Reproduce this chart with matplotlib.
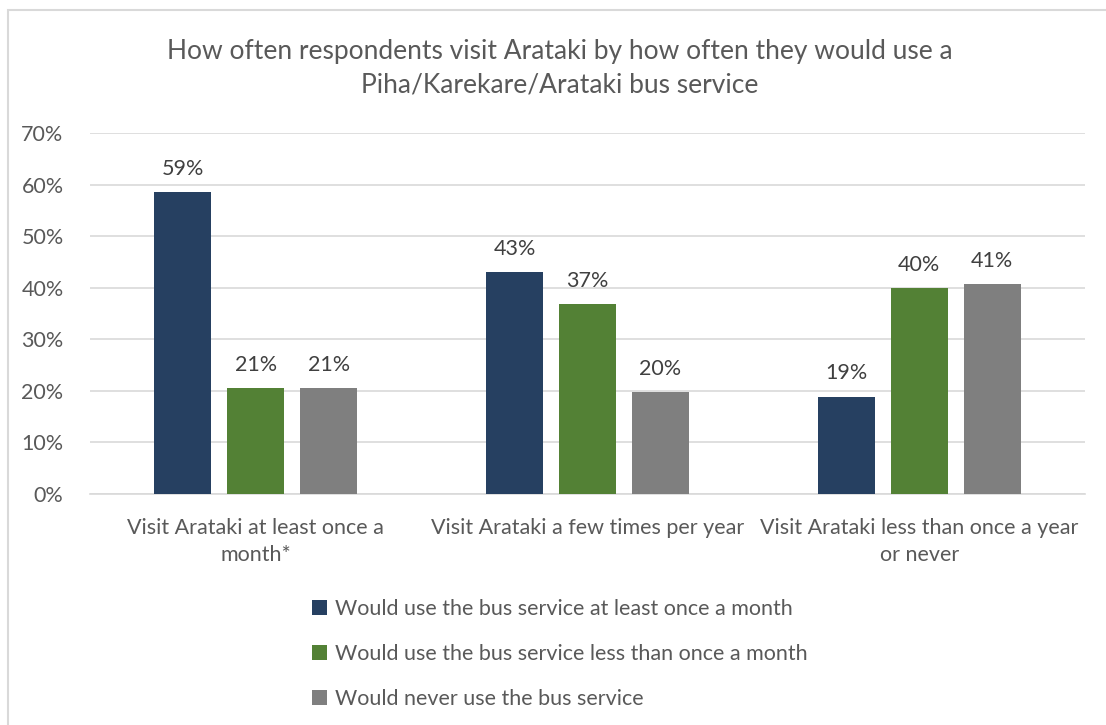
import matplotlib.pyplot as plt
import numpy as np
from matplotlib.patches import Rectangle

plt.rcParams['font.family'] = ['Lato', 'DejaVu Sans']

categories = ["Visit Arataki at least once a\nmonth*",
              "Visit Arataki a few times per year",
              "Visit Arataki less than once a year\nor never"]
series_names = ["Would use the bus service at least once a month",
                "Would use the bus service less than once a month",
                "Would never use the bus service"]
at_least_monthly = [58.6, 43.0, 18.9]
less_than_monthly = [20.6, 36.8, 39.9]
never_use = [20.6, 19.8, 40.7]
colors = ["#264061", "#538135", "#7f7f7f"]
text_color = "#595959"
fs = 15.5

fig = plt.figure(figsize=(11.06, 7.25), dpi=100)
ax = fig.add_axes([90/1106, 1 - 494/725, 995/1106, (494 - 133)/725])

# light frame around the chart area
fig.patches.append(Rectangle((8/1106, -0.1), 1.2, 1 - 10/725 + 0.1,
                             transform=fig.transFigure, fill=False,
                             edgecolor="#d9d9d9", linewidth=1.5))

x = np.arange(len(categories))
width = 0.172
step = 0.22
series = [at_least_monthly, less_than_monthly, never_use]
for i, (vals, name, col) in enumerate(zip(series, series_names, colors)):
    bars = ax.bar(x + (i - 1) * step, vals, width, color=col, label=name, zorder=3)
    for b, v in zip(bars, vals):
        ax.text(b.get_x() + b.get_width() / 2, v + 4.5, f"{v:.0f}%",
                ha="center", va="center", fontsize=fs, color="#404040")

ax.set_xlim(-0.5, 2.5)
ax.set_ylim(0, 70)
ax.set_yticks(range(0, 71, 10))
ax.set_yticklabels([f"{t}%" for t in range(0, 71, 10)])
ax.set_xticks(x)
ax.set_xticklabels(categories, linespacing=1.45)
ax.tick_params(axis="both", length=0, labelsize=fs, labelcolor=text_color)
ax.tick_params(axis="y", pad=19)
ax.tick_params(axis="x", pad=17)
ax.grid(axis="y", color="#d9d9d9", linewidth=1.2, zorder=0)
for s in ["top", "right", "left"]:
    ax.spines[s].set_visible(False)
ax.spines["bottom"].set_color("#d9d9d9")
ax.spines["bottom"].set_linewidth(1.2)

fig.text(560/1106, 1 - 68/725,
         "How often respondents visit Arataki by how often they would use a\n"
         "Piha/Karekare/Arataki bus service",
         ha="center", va="center", fontsize=19, color=text_color, linespacing=1.45)

fig.legend(loc="upper left", bbox_to_anchor=(293/1106, 1 - 580/725),
           frameon=False, fontsize=fs, labelcolor=text_color,
           handlelength=0.7, handleheight=0.7, handletextpad=0.35,
           labelspacing=1.15)

plt.savefig("out.png", dpi=100)
plt.close()
